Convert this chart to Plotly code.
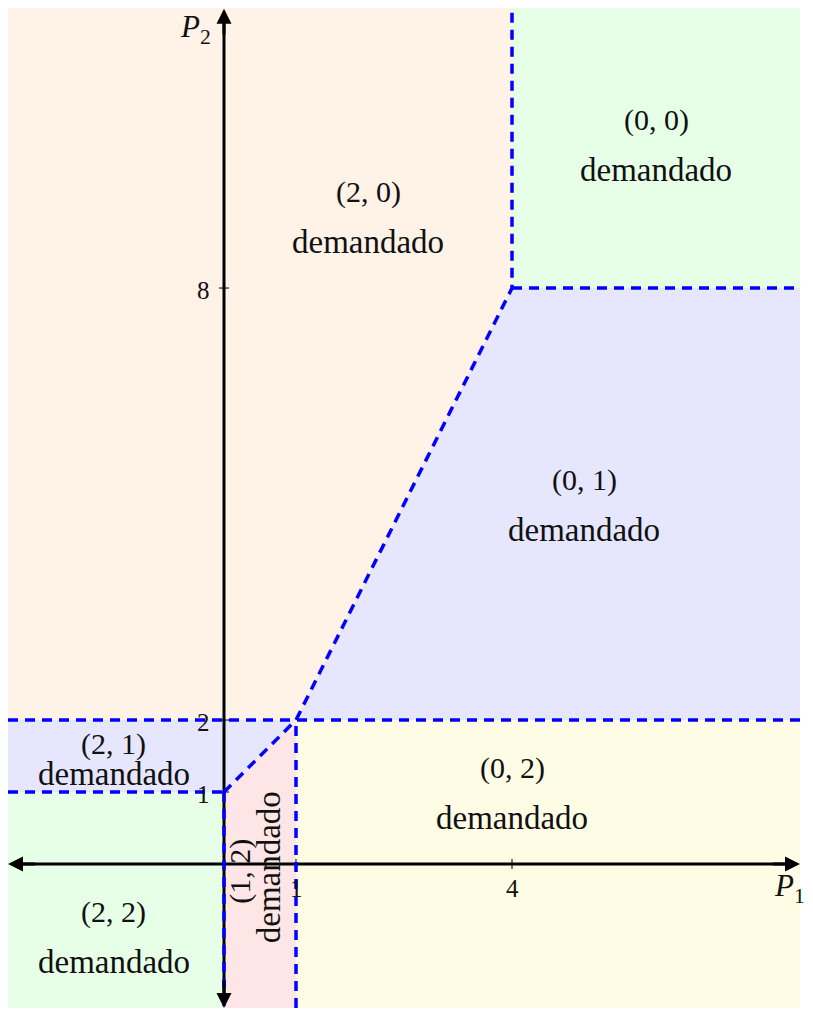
import plotly.graph_objects as go

# ---------------- data ----------------
x_range = [-3, 8]
y_range = [-2, 11.89]

# region polygons (vertices)
reg_20_x = [-3, 1, 4, 4, -3]
reg_20_y = [2, 2, 8, 12, 12]
reg_00_x = [4, 8, 8, 4]
reg_00_y = [8, 8, 12, 12]
reg_01_x = [1, 8, 8, 4]
reg_01_y = [2, 2, 8, 8]
reg_02_x = [1, 8, 8, 1]
reg_02_y = [-2, -2, 2, 2]
reg_21_x = [-3, 0, 1, -3]
reg_21_y = [1, 1, 2, 2]
reg_22_x = [-3, 0, 0, -3]
reg_22_y = [-2, -2, 1, 1]
reg_12_x = [0, 1, 1, 0]
reg_12_y = [-2, -2, 2, 1]

region_colors = {
    "20": "#FFF2E6",
    "00": "#E6FFE6",
    "01": "#E6E6FF",
    "02": "#FFFCE6",
    "21": "#E6E6FF",
    "22": "#E6FFE6",
    "12": "#FFE6E6",
}

# dashed boundary segments
bound_x = [-3, 8, None, -3, 0, None, 0, 0, None, 1, 1, None, 0, 1, 4, 4, None, 4, 8]
bound_y = [2, 2, None, 1, 1, None, 1, -2, None, -2, 2, None, 1, 2, 8, 12, None, 8, 8]

# axis ticks
x_ticks = [1, 4]
y_ticks = [1, 2, 8]
x_tick_labels = ["1", "4"]
y_tick_labels = ["1", "2", "8"]

# region labels: (x, y_top_line, y_bottom_line, label)
labels = [
    (2, 9.33, 8.64, "(2, 0)"),
    (6, 10.33, 9.64, "(0, 0)"),
    (5, 5.33, 4.64, "(0, 1)"),
    (4, 1.33, 0.64, "(0, 2)"),
    (-1.53, 1.67, 1.25, "(2, 1)"),
    (-1.53, -0.67, -1.36, "(2, 2)"),
]
rot_label = (0.23, 0.63, -0.1, -0.04, "(1, 2)")
word = "demandado"

# ---------------- figure ----------------
fig = go.Figure()

regions = [
    (reg_20_x, reg_20_y, "20"), (reg_00_x, reg_00_y, "00"), (reg_01_x, reg_01_y, "01"),
    (reg_02_x, reg_02_y, "02"), (reg_21_x, reg_21_y, "21"), (reg_22_x, reg_22_y, "22"),
    (reg_12_x, reg_12_y, "12"),
]
for xs, ys, key in regions:
    fig.add_trace(go.Scatter(x=xs, y=ys, fill="toself", mode="none",
                             fillcolor=region_colors[key], hoverinfo="skip"))

# axes lines (black)
fig.add_trace(go.Scatter(x=[x_range[0] + 0.1, x_range[1] - 0.1], y=[0, 0], mode="lines",
                         line=dict(color="black", width=3), hoverinfo="skip"))
fig.add_trace(go.Scatter(x=[0, 0], y=[y_range[0] + 0.1, y_range[1] - 0.1], mode="lines",
                         line=dict(color="black", width=3), hoverinfo="skip"))

# tick marks
tl = 0.07
tx, ty = [], []
for t in x_ticks:
    tx += [t, t, None]
    ty += [-tl, tl, None]
for t in y_ticks:
    tx += [-tl, tl, None]
    ty += [t, t, None]
fig.add_trace(go.Scatter(x=tx, y=ty, mode="lines", line=dict(color="black", width=1),
                         hoverinfo="skip"))

# dashed boundaries
fig.add_trace(go.Scatter(x=bound_x, y=bound_y, mode="lines",
                         line=dict(color="#0000FF", width=3.5, dash="10px,7px"),
                         hoverinfo="skip"))

annotations = []
# arrowheads
for (hx, hy, tx_, ty_) in [(8, 0, 7.6, 0), (-3, 0, -2.6, 0), (0, 11.88, 0, 11.5), (0, -2, 0, -1.6)]:
    annotations.append(dict(x=hx, y=hy, ax=tx_, ay=ty_, xref="x", yref="y", axref="x", ayref="y",
                            text="", showarrow=True, arrowhead=2, arrowsize=1.0, arrowwidth=3,
                            arrowcolor="black", standoff=0))

serif = "Liberation Serif"
fs_lab = 30
fs_word = 33
for (x, y1, y2, lab) in labels:
    annotations.append(dict(x=x, y=y1, xref="x", yref="y", text=lab, showarrow=False,
                            font=dict(family=serif, size=fs_lab, color="#111111")))
    annotations.append(dict(x=x, y=y2, xref="x", yref="y", text=word, showarrow=False,
                            font=dict(family=serif, size=fs_word, color="#111111")))

rx1, rx2, ry1, ry2, rlab = rot_label
annotations.append(dict(x=rx1, y=ry1, xref="x", yref="y", text=rlab, showarrow=False, textangle=-90,
                        font=dict(family=serif, size=fs_lab, color="#111111")))
annotations.append(dict(x=rx2, y=ry2, xref="x", yref="y", text=word, showarrow=False, textangle=-90,
                        font=dict(family=serif, size=fs_word, color="#111111")))

# tick labels
for t, lab in zip(x_ticks, x_tick_labels):
    annotations.append(dict(x=t, y=-0.12, xref="x", yref="y", text=lab, showarrow=False,
                            yanchor="top", font=dict(family=serif, size=25, color="#111111")))
for t, lab in zip(y_ticks, y_tick_labels):
    annotations.append(dict(x=-0.17, y=t - 0.03, xref="x", yref="y", text=lab, showarrow=False,
                            xanchor="right", font=dict(family=serif, size=25, color="#111111")))

# axis labels
annotations.append(dict(x=7.86, y=-0.33, xref="x", yref="y", text="<i>P</i><sub>1</sub>",
                        showarrow=False, font=dict(family=serif, size=31, color="#111111")))
annotations.append(dict(x=-0.4, y=11.6, xref="x", yref="y", text="<i>P</i><sub>2</sub>",
                        showarrow=False, font=dict(family=serif, size=31, color="#111111")))

fig.update_layout(
    width=805, height=1004,
    margin=dict(l=0, r=13, t=0, b=4),
    paper_bgcolor="white", plot_bgcolor="white",
    showlegend=False,
    annotations=annotations,
    xaxis=dict(range=x_range, visible=False, fixedrange=True),
    yaxis=dict(range=y_range, visible=False, fixedrange=True),
)

fig.write_html("out.html")
